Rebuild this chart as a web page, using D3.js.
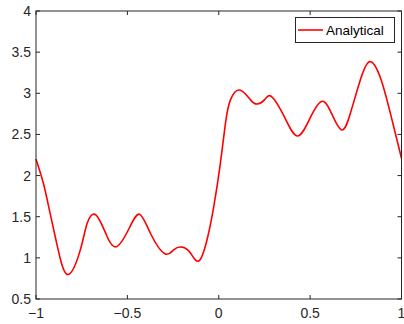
<!DOCTYPE html>
<html><head><meta charset="utf-8">
<script src="https://cdn.jsdelivr.net/npm/d3@7"></script>
<style>body{margin:0;background:#fff}svg{display:block}</style>
</head><body>
<script>
const xValues = [-1, -0.96, -0.927, -0.895, -0.866, -0.82, -0.757, -0.72, -0.671, -0.611, -0.556, -0.49, -0.433, -0.372, -0.295, -0.245, -0.2, -0.155, -0.109, -0.064, -0.027, 0.009, 0.037, 0.064, 0.115, 0.174, 0.21, 0.25, 0.289, 0.36, 0.431, 0.5, 0.561, 0.612, 0.672, 0.722, 0.776, 0.827, 0.886, 0.941, 1.0];
const yValues = [2.2, 1.91, 1.585, 1.26, 0.98, 0.8, 1.1, 1.42, 1.52, 1.26, 1.14, 1.36, 1.53, 1.29, 1.05, 1.1, 1.13, 1.06, 0.962, 1.22, 1.625, 2.15, 2.64, 2.92, 3.04, 2.92, 2.87, 2.92, 2.96, 2.71, 2.48, 2.7, 2.9, 2.78, 2.555, 2.77, 3.17, 3.385, 3.18, 2.74, 2.21];
const xTicks = [-1, -0.5, 0, 0.5, 1];
const yTicks = [0.5, 1, 1.5, 2, 2.5, 3, 3.5, 4];
const seriesName = "Analytical";

const W = 404, H = 324;
const m = {left: 36, top: 11, right: 2.5, bottom: 25};
const svg = d3.select("body").append("svg").attr("width", W).attr("height", H);
const x = d3.scaleLinear().domain([-1, 1]).range([m.left, W - m.right]);
const y = d3.scaleLinear().domain([0.5, 4]).range([H - m.bottom, m.top]);
const axCol = "#262626";
const font = "Liberation Sans, Arial, sans-serif";

const g = svg.append("g");
xTicks.forEach(t => {
  g.append("line").attr("x1", x(t)).attr("x2", x(t)).attr("y1", y(0.5)).attr("y2", y(0.5) - 4).attr("stroke", axCol);
  g.append("line").attr("x1", x(t)).attr("x2", x(t)).attr("y1", y(4)).attr("y2", y(4) + 4).attr("stroke", axCol);
  g.append("text").attr("x", x(t)).attr("y", y(0.5) + 19).attr("text-anchor", "middle")
    .attr("font-family", font).attr("font-size", 14).attr("fill", axCol).text(d3.format("")(t));
});
yTicks.forEach(t => {
  g.append("line").attr("x1", x(-1)).attr("x2", x(-1) + 4).attr("y1", y(t)).attr("y2", y(t)).attr("stroke", axCol);
  g.append("line").attr("x1", x(1)).attr("x2", x(1) - 4).attr("y1", y(t)).attr("y2", y(t)).attr("stroke", axCol);
  g.append("text").attr("x", x(-1) - 5).attr("y", y(t) + 5).attr("text-anchor", "end")
    .attr("font-family", font).attr("font-size", 14).attr("fill", axCol).text(d3.format("")(t));
});

const data = xValues.map((v, i) => [v, yValues[i]]);
svg.append("path").datum(data)
  .attr("d", d3.line().x(d => x(d[0])).y(d => y(d[1])).curve(d3.curveNatural))
  .attr("fill", "none").attr("stroke", "#ff0000").attr("stroke-width", 1.6);

svg.append("rect").attr("x", x(-1)).attr("y", y(4)).attr("width", x(1) - x(-1)).attr("height", y(0.5) - y(4))
  .attr("fill", "none").attr("stroke", axCol).attr("stroke-width", 1);

const lg = svg.append("g");
lg.append("rect").attr("x", 295.5).attr("y", 17.5).attr("width", 99).attr("height", 25)
  .attr("fill", "#fff").attr("stroke", axCol).attr("stroke-width", 1);
lg.append("line").attr("x1", 298).attr("x2", 323).attr("y1", 30).attr("y2", 30).attr("stroke", "#ff0000").attr("stroke-width", 1.6);
lg.append("text").attr("x", 326).attr("y", 35).attr("font-family", font).attr("font-size", 13.5).attr("fill", "#000").text(seriesName);
</script>
</body></html>
